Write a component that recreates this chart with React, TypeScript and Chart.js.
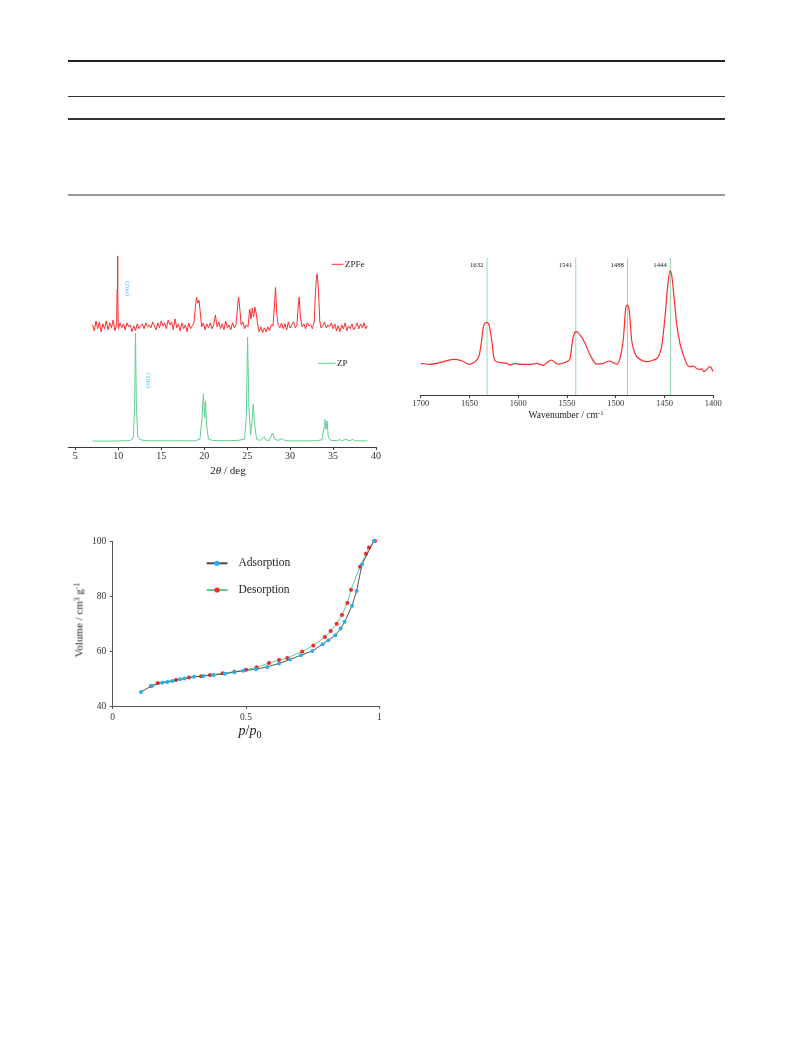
import React, { useEffect, useRef } from "react";
import { Chart, registerables } from "chart.js";

Chart.register(...registerables);

const SERIF = '"Liberation Serif", "DejaVu Serif", "Times New Roman", serif';

// ---------------- XRD (2θ / deg) ----------------
const xrdTicks = [5, 10, 15, 20, 25, 30, 35, 40];
const xrdSeriesNames = ["ZPFe", "ZP"];
const xrdPeakLabel = "(002)";

const zpfePattern: [number, number][] = [
  [7.0, 62], [7.2, 59], [7.4, 64], [7.6, 60], [7.8, 63.5], [8.0, 58.5], [8.2, 62.5], [8.4, 60],
  [8.6, 64], [8.8, 59.5], [9.0, 63], [9.2, 60.5], [9.4, 64.5], [9.6, 59], [9.8, 62], [9.85, 80],
  [9.9, 97], [9.95, 80], [10.0, 60], [10.2, 63], [10.4, 60.5], [10.6, 62.5], [10.8, 59.5], [11.0, 63],
  [11.2, 61], [11.4, 62], [11.6, 58.5], [11.8, 61.5], [12.0, 59], [12.2, 62.5], [12.4, 60], [12.6, 61.5],
  [12.8, 62.5], [13.0, 60], [13.2, 63], [13.4, 61], [13.6, 62], [13.8, 60.5], [14.0, 63.5], [14.2, 61.5],
  [14.4, 59.5], [14.6, 63], [14.8, 60.5], [15.0, 64], [15.2, 61.5], [15.4, 63], [15.6, 60], [15.8, 64.5],
  [16.0, 62], [16.2, 63.5], [16.4, 59.5], [16.6, 65], [16.8, 60.5], [17.0, 62.5], [17.2, 59], [17.4, 63],
  [17.6, 60], [17.8, 62], [18.0, 58.5], [18.2, 63], [18.4, 60], [18.6, 61.5], [18.8, 63], [19.0, 72],
  [19.1, 76], [19.25, 73], [19.4, 74.5], [19.55, 68], [19.7, 61], [19.9, 63], [20.1, 59.5], [20.3, 62.5],
  [20.5, 60.5], [20.7, 63], [20.9, 60], [21.1, 62], [21.3, 67], [21.5, 61], [21.7, 63.5], [21.9, 60],
  [22.1, 62.5], [22.3, 59.5], [22.5, 64], [22.7, 60.5], [22.9, 62], [23.1, 59.5], [23.3, 63], [23.5, 60.5],
  [23.7, 62], [23.9, 72], [24.0, 76], [24.15, 70], [24.3, 62], [24.5, 63.5], [24.7, 60], [24.9, 62],
  [25.1, 61], [25.3, 70], [25.45, 65], [25.6, 70.5], [25.75, 66], [25.9, 71], [26.05, 68], [26.2, 63],
  [26.4, 58.5], [26.6, 61], [26.8, 58], [27.0, 60.5], [27.2, 58.5], [27.4, 61], [27.6, 59], [27.8, 62],
  [28.0, 61.5], [28.15, 70], [28.3, 81], [28.45, 68], [28.6, 62], [28.8, 60.5], [29.0, 63], [29.2, 60],
  [29.4, 62.5], [29.6, 59.5], [29.8, 63.5], [30.0, 60.5], [30.2, 62], [30.4, 63.5], [30.6, 60.5], [30.8, 62],
  [30.95, 72], [31.05, 76], [31.2, 66], [31.4, 61], [31.6, 62.5], [31.8, 60], [32.0, 63], [32.2, 61.5],
  [32.4, 62], [32.6, 60], [32.8, 63.5], [32.95, 78], [33.05, 85], [33.15, 88], [33.3, 80], [33.45, 64],
  [33.6, 60.5], [33.8, 61.5], [34.0, 63.5], [34.2, 60.5], [34.4, 62], [34.6, 61], [34.8, 63], [35.0, 60],
  [35.2, 62.5], [35.4, 59], [35.6, 61.5], [35.8, 58.5], [36.0, 62], [36.2, 60], [36.4, 63], [36.6, 59],
  [36.8, 61.5], [37.0, 60], [37.2, 62.5], [37.4, 59.5], [37.6, 61], [37.8, 63], [38.0, 60], [38.2, 62.5],
  [38.4, 60.5], [38.6, 63], [38.8, 60], [39.0, 61.5],
];

const zpPattern: [number, number][] = [
  [7, 3], [8, 3], [9, 3], [10, 3.1], [11, 3.2], [11.5, 3.5], [11.75, 5], [11.9, 20], [12.0, 57.8],
  [12.1, 22], [12.25, 6], [12.5, 3.8], [13, 3.3], [14, 3.1], [15, 3.2], [16, 3.1], [17, 3.2], [18, 3.1],
  [19, 3.2], [19.5, 4], [19.75, 15], [19.9, 26.9], [20.05, 15], [20.15, 23.4], [20.3, 10], [20.5, 4],
  [21, 3.3], [22, 3.2], [23, 3.2], [24, 3.4], [24.7, 4], [24.9, 15], [25.05, 55.7], [25.2, 20], [25.4, 6],
  [25.6, 15], [25.72, 21.8], [25.85, 12], [26.1, 4], [26.5, 3.3], [26.9, 5], [27.0, 5.2], [27.15, 3.5],
  [27.6, 3.4], [27.9, 6.6], [28.0, 6.8], [28.2, 4], [28.6, 3.3], [29.0, 4.2], [29.2, 3.8], [29.5, 3.2],
  [30, 3.1], [31, 3.1], [32, 3.1], [33, 3.2], [33.7, 3.6], [33.95, 10], [34.05, 14], [34.18, 9],
  [34.3, 13.2], [34.45, 5], [34.7, 3.4], [35.5, 3.2], [35.8, 3.8], [36.0, 3.2], [36.3, 3.6], [36.5, 4.0],
  [36.7, 3.4], [37.0, 3.3], [37.3, 3.9], [37.5, 3.2], [38, 3.1], [39, 3.1],
];

// ---------------- FTIR (Wavenumber / cm-1) ----------------
const irBands = [1632, 1541, 1488, 1444];
const irSpectrum: [number, number][] = [
  [1700, 22.6], [1690.4, 21.9], [1680.2, 23.1], [1666.5, 25.5], [1658, 24.5], [1650.1, 21.9],
  [1644.3, 23.8], [1639.9, 28.6], [1637.5, 39.3], [1635.8, 48.3], [1633, 51.7], [1631.7, 51.7],
  [1629.6, 49.3], [1627.2, 39.3], [1624.8, 26.2], [1622.1, 23.8], [1611.8, 22.6], [1608.4, 21.4],
  [1603.3, 22.6], [1598.2, 21.9], [1584.5, 22.1], [1581.1, 22.6], [1574.3, 21.2], [1570.8, 23.1],
  [1565.7, 25.0], [1562.3, 23.1], [1558.9, 22.1], [1550.3, 23.8], [1546.9, 26.2], [1544.2, 39.3],
  [1541.8, 44.8], [1540.1, 45.2], [1536.7, 42.9], [1531.5, 36.9], [1526.4, 28.6], [1519.6, 22.1],
  [1512.8, 22.6], [1506.6, 24.3], [1502.6, 23.1], [1499.1, 21.9], [1495.7, 26.2], [1492.3, 39.3],
  [1489.5, 63.1], [1488.2, 64.3], [1486.1, 59.5], [1483.7, 39.3], [1480.3, 29.7], [1475.2, 25.5],
  [1468.3, 23.8], [1461.5, 25.0], [1456.4, 27.4], [1453, 34.5], [1449.5, 55.9], [1446.8, 77.4],
  [1444.4, 88.6], [1442.7, 85.7], [1440.3, 70.2], [1437.6, 51.2], [1434.2, 36.9], [1430.7, 28.6],
  [1426.6, 21.4], [1423.2, 20.2], [1420.5, 20.7], [1417.1, 19.0], [1414.4, 18.3], [1412, 18.6],
  [1409.6, 16.7], [1406.8, 18.3], [1403.4, 20.2], [1400, 16.7],
];

// ---------------- N2 isotherm (p/p0) ----------------
const isoSeriesNames = ["Adsorption", "Desorption"];
const adsorptionP = [0.106, 0.1475, 0.186, 0.205, 0.224, 0.2525, 0.269, 0.305, 0.34, 0.3775, 0.421, 0.456,
  0.49, 0.5375, 0.58, 0.624, 0.665, 0.706, 0.749, 0.7875, 0.809, 0.835, 0.855, 0.87, 0.8975, 0.915, 0.935, 0.98];
const adsorptionV = [45.1, 47.4, 48.5, 48.7, 49.1, 49.7, 50.0, 50.6, 50.9, 51.3, 51.7, 52.3,
  52.8, 53.4, 54.2, 55.5, 56.9, 58.5, 60.0, 62.5, 63.9, 65.7, 68.2, 70.6, 76.4, 81.8, 91.5, 100];
const desorptionP = [0.144, 0.169, 0.2375, 0.286, 0.331, 0.365, 0.4125, 0.456, 0.5, 0.54, 0.586, 0.624,
  0.655, 0.711, 0.7525, 0.796, 0.8175, 0.84, 0.86, 0.88, 0.894, 0.9275, 0.95, 0.961, 0.984];
const desorptionV = [47.3, 48.4, 49.5, 50.4, 50.8, 51.3, 51.9, 52.5, 53.2, 54.1, 55.6, 56.7,
  57.5, 59.8, 62.0, 65.1, 67.3, 69.9, 73.1, 77.5, 82.3, 90.6, 95.4, 97.6, 100];

// ---------------- styles ----------------
const RED = "#ff2b2b";
const GREEN = "#5fcf90";
const BAND_GREEN = "#82d6a6";
const BLUE = "#29b0ec";
const LABEL_BLUE = "#55c3ee";
const AXIS = "#3a3a3a";

const plainTick = (v: any) => String(v);

const xrdDecor = {
  id: "xrdDecor",
  afterDraw(chart: any) {
    const ctx = chart.ctx;
    ctx.save();
    ctx.font = `9px ${SERIF}`;
    ctx.textBaseline = "middle";
    ctx.textAlign = "left";
    const leg = [
      { t: xrdSeriesNames[0], c: RED, x0: 271.7, x1: 283.5, y: 24.3 },
      { t: xrdSeriesNames[1], c: GREEN, x0: 258, x1: 275.5, y: 123.3 },
    ];
    for (const l of leg) {
      ctx.strokeStyle = l.c;
      ctx.lineWidth = 1;
      ctx.beginPath();
      ctx.moveTo(l.x0, l.y);
      ctx.lineTo(l.x1, l.y);
      ctx.stroke();
      ctx.fillStyle = "#222";
      ctx.fillText(l.t, l.x1 + 1.5, l.y + 0.5);
    }
    ctx.font = `7px ${SERIF}`;
    ctx.fillStyle = LABEL_BLUE;
    ctx.textAlign = "center";
    for (const p of [{ x: 67.5, y: 48.5 }, { x: 88, y: 140.5 }]) {
      ctx.save();
      ctx.translate(p.x, p.y);
      ctx.rotate(-Math.PI / 2);
      ctx.fillText(xrdPeakLabel, 0, 0);
      ctx.restore();
    }
    ctx.restore();
  },
};

const irDecor = {
  id: "irDecor",
  afterDraw(chart: any) {
    const ctx = chart.ctx;
    const xs = chart.scales.x;
    ctx.save();
    ctx.font = `6.8px ${SERIF}`;
    ctx.fillStyle = "#222";
    ctx.textAlign = "right";
    ctx.textBaseline = "middle";
    for (const b of irBands) {
      ctx.fillText(String(b), xs.getPixelForValue(b) - 3.5, 20);
    }
    ctx.restore();
  },
};

const isoDecor = {
  id: "isoDecor",
  afterDraw(chart: any) {
    const ctx = chart.ctx;
    ctx.save();
    const leg = [
      { t: isoSeriesNames[0], line: "#4a4a4a", dot: BLUE, y: 33.3 },
      { t: isoSeriesNames[1], line: GREEN, dot: "#ff2222", y: 60 },
    ];
    for (const l of leg) {
      ctx.strokeStyle = l.line;
      ctx.lineWidth = 2;
      ctx.beginPath();
      ctx.moveTo(146.7, l.y);
      ctx.lineTo(167.5, l.y);
      ctx.stroke();
      ctx.fillStyle = l.dot;
      ctx.beginPath();
      ctx.arc(157, l.y, 2.6, 0, Math.PI * 2);
      ctx.fill();
      ctx.font = `11.5px ${SERIF}`;
      ctx.fillStyle = "#222";
      ctx.textAlign = "left";
      ctx.textBaseline = "middle";
      ctx.fillText(l.t, 178.5, l.y);
    }
    ctx.restore();
  },
};

function tickFont(size: number) {
  return { family: SERIF, size, lineHeight: 1.1 };
}

function makeXrd(): any {
  return {
    type: "line",
    data: {
      datasets: [
        { label: xrdSeriesNames[0], data: zpfePattern.map(([x, y]) => ({ x, y })), borderColor: RED, borderWidth: 1, pointRadius: 0, tension: 0 },
        { label: xrdSeriesNames[1], data: zpPattern.map(([x, y]) => ({ x, y })), borderColor: GREEN, borderWidth: 1, pointRadius: 0, tension: 0 },
      ],
    },
    options: {
      responsive: false,
      animation: false,
      layout: { padding: { left: 8.5, right: 14, top: 10, bottom: 0 } },
      plugins: { legend: { display: false }, tooltip: { enabled: false } },
      scales: {
        x: {
          type: "linear",
          min: 4.2,
          max: 40,
          afterBuildTicks: (s: any) => { s.ticks = xrdTicks.map((v) => ({ value: v })); },
          afterFit: (s: any) => { s.height = 20; },
          grid: { drawOnChartArea: false, tickLength: 3, color: AXIS, lineWidth: 1 },
          border: { color: AXIS, width: 1 },
          ticks: { font: tickFont(10), color: "#333", padding: 1, maxRotation: 0, autoSkip: false, callback: plainTick },
        },
        y: { display: false, min: 0, max: 100 },
      },
    },
    plugins: [xrdDecor],
  };
}

function makeIr(): any {
  return {
    type: "line",
    data: {
      datasets: [
        { label: "FTIR", data: irSpectrum.map(([x, y]) => ({ x, y })), borderColor: RED, borderWidth: 1.2, pointRadius: 0, tension: 0.4, cubicInterpolationMode: "monotone" },
        ...irBands.map((b) => ({
          label: String(b),
          data: [{ x: b, y: 0 }, { x: b, y: 98 }],
          borderColor: BAND_GREEN,
          borderWidth: 0.9,
          pointRadius: 0,
        })),
      ],
    },
    options: {
      responsive: false,
      animation: false,
      layout: { padding: { left: 15.7, right: 11.7, top: 10, bottom: 0 } },
      plugins: { legend: { display: false }, tooltip: { enabled: false } },
      scales: {
        x: {
          type: "linear",
          min: 1400,
          max: 1700,
          reverse: true,
          afterFit: (s: any) => { s.height = 20; },
          grid: { drawOnChartArea: false, tickLength: 3, color: AXIS, lineWidth: 1 },
          border: { color: AXIS, width: 1 },
          ticks: { stepSize: 50, font: tickFont(8.5), color: "#333", padding: 1, maxRotation: 0, autoSkip: false, callback: plainTick },
        },
        y: { display: false, min: 0, max: 100 },
      },
    },
    plugins: [irDecor],
  };
}

function makeIso(): any {
  return {
    type: "line",
    data: {
      datasets: [
        {
          label: isoSeriesNames[0],
          data: adsorptionP.map((x, i) => ({ x, y: adsorptionV[i] })),
          borderColor: "#555",
          borderWidth: 1,
          pointRadius: 2,
          pointBorderWidth: 0,
          pointBackgroundColor: BLUE,
          clip: false,
        },
        {
          label: isoSeriesNames[1],
          data: desorptionP.map((x, i) => ({ x, y: desorptionV[i] })),
          borderColor: GREEN,
          borderWidth: 1,
          pointRadius: 2,
          pointBorderWidth: 0,
          pointBackgroundColor: "#ff2222",
          clip: false,
        },
      ],
    },
    options: {
      responsive: false,
      animation: false,
      layout: { padding: { left: 0, right: 10.7, top: 11, bottom: 0 } },
      plugins: { legend: { display: false }, tooltip: { enabled: false } },
      scales: {
        x: {
          type: "linear",
          min: 0,
          max: 1,
          afterFit: (s: any) => { s.height = 20; },
          grid: { drawOnChartArea: false, tickLength: 3, color: "#555", lineWidth: 1 },
          border: { color: "#555", width: 1 },
          ticks: { stepSize: 0.5, font: tickFont(9.5), color: "#333", padding: 3, maxRotation: 0, callback: plainTick },
        },
        y: {
          type: "linear",
          min: 40,
          max: 100,
          afterFit: (s: any) => { s.width = 52.7; },
          grid: { drawOnChartArea: false, tickLength: 3, color: "#555", lineWidth: 1 },
          border: { color: "#555", width: 1 },
          ticks: { stepSize: 20, font: tickFont(9.5), color: "#333", padding: 3.5, callback: plainTick },
        },
      },
    },
    plugins: [isoDecor],
  };
}

function ChartBox(props: { left: number; top: number; width: number; height: number; make: () => any }) {
  const ref = useRef<HTMLCanvasElement>(null);
  useEffect(() => {
    const chart = new Chart(ref.current as HTMLCanvasElement, props.make());
    return () => chart.destroy();
  }, []);
  return (
    <canvas
      ref={ref}
      width={props.width}
      height={props.height}
      style={{ position: "absolute", left: props.left, top: props.top, width: props.width, height: props.height }}
    />
  );
}

function Rule(props: { top: number; h: number; color: string }) {
  return <div style={{ position: "absolute", left: 68, width: 657, top: props.top, height: props.h, background: props.color }} />;
}

function Label(props: { x: number; y: number; size: number; rotate?: boolean; children: React.ReactNode }) {
  return (
    <div
      style={{
        position: "absolute",
        left: props.x,
        top: props.y,
        transform: `translate(-50%, -50%)${props.rotate ? " rotate(-90deg)" : ""}`,
        fontFamily: SERIF,
        fontSize: props.size,
        lineHeight: 1,
        whiteSpace: "nowrap",
        color: "#222",
      }}
    >
      {props.children}
    </div>
  );
}

const supStyle: React.CSSProperties = { fontSize: "70%", verticalAlign: "0.45em", lineHeight: 0 };
const subStyle: React.CSSProperties = { fontSize: "72%", verticalAlign: "-0.25em", lineHeight: 0 };

export default function App() {
  return (
    <div style={{ position: "absolute", left: 0, top: 0, width: 793, height: 1053, background: "#fff", overflow: "hidden" }}>
      <Rule top={60} h={2} color="#222" />
      <Rule top={96} h={1} color="#333" />
      <Rule top={118} h={1.5} color="#333" />
      <Rule top={194} h={1.5} color="#999" />

      <ChartBox left={60} top={240} width={330} height={227} make={makeXrd} />
      <Label x={228} y={470} size={11}>
        2<i>θ</i> / deg
      </Label>

      <ChartBox left={405} top={245} width={320} height={170} make={makeIr} />
      <Label x={566} y={416} size={9.5}>
        Wavenumber / cm<span style={supStyle}>-1</span>
      </Label>

      <ChartBox left={60} top={530} width={330} height={196} make={makeIso} />
      <Label x={79} y={620} size={11} rotate>
        Volume / cm<span style={supStyle}>3</span> g<span style={supStyle}>-1</span>
      </Label>
      <Label x={250} y={731} size={14}>
        <i>p</i>/<i>p</i><span style={subStyle}>0</span>
      </Label>
    </div>
  );
}
